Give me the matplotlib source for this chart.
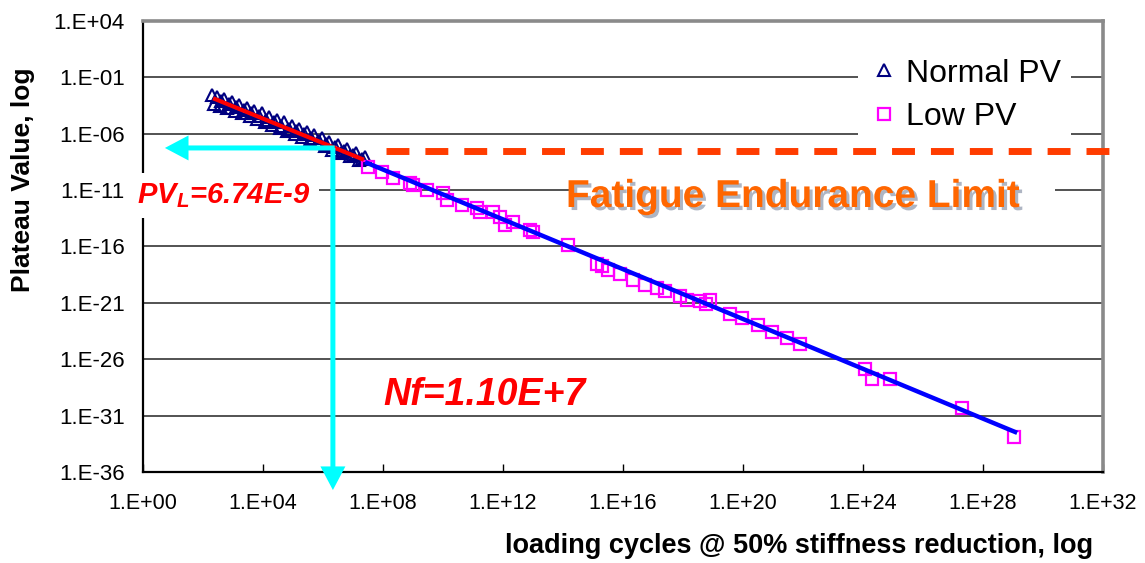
import matplotlib
matplotlib.use("Agg")
import matplotlib.pyplot as plt
import matplotlib.patheffects as pe
from matplotlib import font_manager as fm
from matplotlib.patches import Rectangle
import numpy as np

plt.rcParams['font.family'] = ['Liberation Sans', 'DejaVu Sans']
plt.rcParams['mathtext.fontset'] = 'custom'
plt.rcParams['mathtext.rm'] = 'Liberation Sans:italic:bold'
plt.rcParams['mathtext.it'] = 'Liberation Sans:italic:bold'

# values, as log10 exponents
normal_x_exp = [2.30, 2.35, 2.45, 2.55, 2.60, 2.70, 2.80, 2.85, 2.95, 3.05,
                3.10, 3.20, 3.30, 3.35, 3.45, 3.55, 3.60, 3.70, 3.80, 3.85,
                3.95, 4.05, 4.10, 4.20, 4.30, 4.35, 4.45, 4.55, 4.60, 4.70,
                4.80, 4.85, 4.95, 5.05, 5.10, 5.20, 5.30, 5.35, 5.45, 5.55,
                5.60, 5.70, 5.80, 5.85, 5.95, 6.05, 6.10, 6.20, 6.30, 6.40,
                6.50, 6.60, 6.70, 6.80, 6.90, 7.00, 7.10, 7.20, 7.30, 7.40]
normal_y_exp = [-2.55, -3.35, -2.75, -3.55, -3.10, -2.95, -3.75, -3.35, -3.20, -3.95,
                -3.65, -3.45, -4.20, -3.90, -3.70, -4.45, -4.20, -3.95, -4.70, -4.45,
                -4.20, -4.95, -4.75, -4.50, -5.25, -5.00, -4.75, -5.50, -5.30, -5.00,
                -5.75, -5.55, -5.30, -6.05, -5.80, -5.60, -6.30, -6.05, -5.85, -6.55,
                -6.35, -6.10, -6.85, -6.60, -6.40, -7.10, -6.90, -6.70, -7.40, -7.20,
                -7.00, -7.70, -7.50, -7.35, -8.00, -7.85, -7.70, -8.35, -8.20, -8.10]

low_x_exp = [7.50, 7.97, 8.33, 8.90, 9.00, 9.47, 10.00, 10.13, 10.63, 11.13,
             11.23, 11.67, 11.90, 12.07, 12.33, 12.90, 13.00, 14.17, 15.13, 15.30,
             15.50, 15.90, 16.33, 16.73, 17.13, 17.40, 17.90, 18.13, 18.57, 18.77,
             18.90, 19.57, 19.97, 20.50, 20.97, 21.47, 21.90, 24.07, 24.30, 24.90,
             27.30, 29.03]
low_y_exp = [-8.95, -9.39, -9.92, -10.37, -10.55, -10.99, -11.26, -11.88, -12.32, -12.59,
             -12.94, -12.94, -13.38, -14.09, -13.83, -14.54, -14.71, -15.87, -17.55, -17.73,
             -18.08, -18.44, -18.97, -19.41, -19.68, -19.95, -20.39, -20.75, -20.83, -21.10,
             -20.75, -21.99, -22.34, -22.96, -23.58, -24.12, -24.65, -26.86, -27.75, -27.75,
             -30.32, -32.90]

fit_normal_x_exp = [2.40, 7.30]
fit_normal_y_exp = [-2.92, -8.24]
fit_low_x_exp = [7.47, 29.07]
fit_low_y_exp = [-8.59, -32.45]

endurance_x_exp = [8.1, 32.45]
endurance_y_exp = -7.5

# cyan guide arrows (corner, left tip, bottom tip)
arrow_corner_exp = (6.33, -7.26)
arrow_left_x_exp = 0.73
arrow_down_y_exp = -37.6

x_tick_exp = [0, 4, 8, 12, 16, 20, 24, 28, 32]
y_tick_exp = [4, -1, -6, -11, -16, -21, -26, -31, -36]

# pick a narrow bold face for the banner if one is installed
names = {f.name for f in fm.fontManager.ttflist}
if 'Liberation Sans Narrow' in names:
    banner_family, banner_size = 'Liberation Sans Narrow', 34
else:
    banner_family, banner_size = 'Liberation Sans', 28

W, H = 1145, 563
fig = plt.figure(figsize=(W / 100, H / 100), dpi=100)
ax = fig.add_axes([143 / W, 1 - 472 / H, 960 / W, 451 / H])

ax.set_xscale('log')
ax.set_yscale('log')
ax.set_xlim(1e0, 1e32)
ax.set_ylim(1e-36, 1e4)

ax.set_xticks([10.0 ** e for e in x_tick_exp])
ax.set_xticklabels([f"1.E{e:+03d}" for e in x_tick_exp], fontsize=15.5)
ax.set_yticks([10.0 ** e for e in y_tick_exp])
ax.set_yticklabels([f"1.E{e:+03d}" for e in y_tick_exp], fontsize=16)
ax.minorticks_off()
ax.tick_params(axis='x', direction='in', length=6, width=1, pad=15)
ax.tick_params(axis='y', length=0, pad=13)
ax.grid(axis='y', color='#444444', linewidth=1.3, zorder=1)
ax.set_axisbelow(True)

for s in ['left', 'bottom']:
    ax.spines[s].set_color('black')
    ax.spines[s].set_linewidth(1.6)
for s in ['top', 'right']:
    ax.spines[s].set_color('#8a8a8a')
    ax.spines[s].set_linewidth(2.6)

# data
ax.plot(np.power(10.0, normal_x_exp), np.power(10.0, normal_y_exp), linestyle='none',
        marker='^', markersize=9, markerfacecolor='none', markeredgecolor='#000080',
        markeredgewidth=1.5, zorder=3, label='Normal PV')
ax.plot(np.power(10.0, low_x_exp), np.power(10.0, low_y_exp), linestyle='none',
        marker='s', markersize=8.5, markerfacecolor='none', markeredgecolor='#FF00FF',
        markeredgewidth=1.6, zorder=3, label='Low PV')

ax.plot(np.power(10.0, fit_normal_x_exp), np.power(10.0, fit_normal_y_exp),
        color='#FF0000', linewidth=3, zorder=4)
ax.plot(np.power(10.0, fit_low_x_exp), np.power(10.0, fit_low_y_exp),
        color='#0000FF', linewidth=3.2, zorder=4)

ax.plot(np.power(10.0, endurance_x_exp), [10.0 ** endurance_y_exp] * 2,
        color='#FF3C00', linewidth=5, dashes=(3.3, 2.3), solid_capstyle='butt',
        dash_capstyle='butt', clip_on=False, zorder=4)

# cyan arrows
cx, cy = 10.0 ** arrow_corner_exp[0], 10.0 ** arrow_corner_exp[1]
arrow_style = dict(facecolor='#00FFFF', edgecolor='none', width=3.6,
                   headwidth=18, headlength=17, shrink=0)
ax.annotate('', xy=(10.0 ** arrow_left_x_exp, cy), xytext=(cx * 1.15, cy),
            arrowprops=arrow_style, annotation_clip=False, zorder=5)
ax.annotate('', xy=(cx, 10.0 ** arrow_down_y_exp), xytext=(cx, cy),
            arrowprops=arrow_style, annotation_clip=False, zorder=5)

# text boxes
ax.text(-0.006, 0.5965, r'PV$_L$=6.74E-9', transform=ax.transAxes, fontsize=21,
        color='#FF0000', fontweight='bold', fontstyle='italic', ha='left', va='baseline',
        bbox=dict(facecolor='white', edgecolor='none', pad=6), clip_on=False, zorder=7)

ax.text(0.25, 0.1486, 'Nf=1.10E+7', transform=ax.transAxes, fontsize=27,
        color='#FF0000', fontweight='bold', fontstyle='italic', ha='left', va='baseline',
        zorder=7)

ax.add_patch(Rectangle((0.445, 0.5765), 0.505, 0.105, transform=ax.transAxes,
                       facecolor='white', edgecolor='none', zorder=5))
ax.text(0.677, 0.5876, 'Fatigue Endurance Limit', transform=ax.transAxes,
        family=banner_family, fontsize=banner_size, fontweight='bold',
        color='#FF6600', ha='center', va='baseline', zorder=7,
        path_effects=[pe.SimplePatchShadow(offset=(2.2, -2.2), shadow_rgbFace='#9aa3b5',
                                           alpha=0.8), pe.Normal()])

leg = ax.legend(loc='upper left', bbox_to_anchor=(858 / W, 1 - 49 / H),
                bbox_transform=fig.transFigure, fontsize=23, frameon=True,
                facecolor='white', edgecolor='none', framealpha=1, fancybox=False,
                borderpad=0.3, handlelength=1.0, handletextpad=0.2, labelspacing=0.42,
                borderaxespad=0)
leg.set_zorder(6)

fig.text(23 / W, 1 - 180 / H, 'Plateau Value, log', rotation=90, fontsize=19,
         fontweight='bold', ha='center', va='center')
fig.text(1093 / W, 1 - 553 / H, 'loading cycles @ 50% stiffness reduction, log',
         fontsize=19.5, fontweight='bold', ha='right', va='baseline')

fig.savefig('out.png', dpi=100, facecolor='white')
